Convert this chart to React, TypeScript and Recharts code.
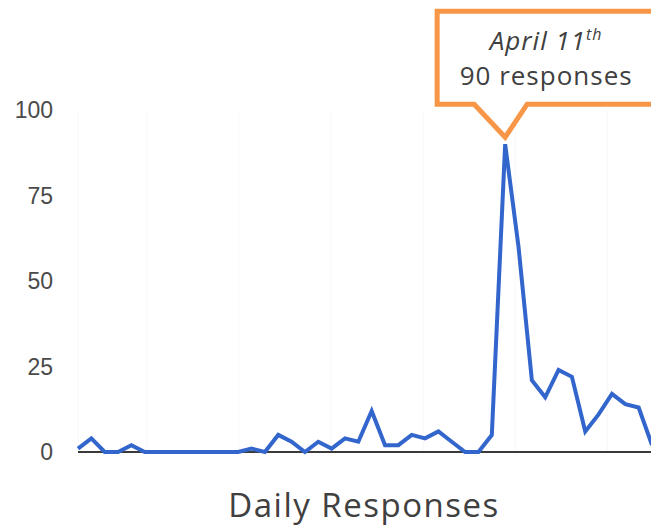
import React from "react";
import { LineChart, Line, XAxis, YAxis, CartesianGrid, ReferenceLine, ReferenceDot } from "recharts";

const dates = [
  "Mar 10", "Mar 11", "Mar 12", "Mar 13", "Mar 14", "Mar 15", "Mar 16", "Mar 17", "Mar 18", "Mar 19", "Mar 20",
  "Mar 21", "Mar 22", "Mar 23", "Mar 24", "Mar 25", "Mar 26", "Mar 27", "Mar 28", "Mar 29", "Mar 30", "Mar 31",
  "Apr 1", "Apr 2", "Apr 3", "Apr 4", "Apr 5", "Apr 6", "Apr 7", "Apr 8", "Apr 9", "Apr 10", "Apr 11",
  "Apr 12", "Apr 13", "Apr 14", "Apr 15", "Apr 16", "Apr 17", "Apr 18", "Apr 19", "Apr 20", "Apr 21", "Apr 22",
];

const responses = [
  1, 4, 0, 0, 2, 0, 0, 0, 0, 0, 0, 0, 0, 1, 0, 5, 3, 0, 3, 1, 4, 3,
  12, 2, 2, 5, 4, 6, 3, 0, 0, 5, 90, 60, 21, 16, 24, 22, 6, 11, 17, 14, 13, 2,
];

const yTicks = [0, 25, 50, 75, 100];
const gridDays = [5.15, 12.05, 18.95, 25.85, 32.75, 39.65];

const peakDate = "Apr 11";
const peakLine1 = "April 11";
const peakSup = "th";
const peakLine2 = "90 responses";
const title = "Daily Responses";

const data = dates.map((date, idx) => ({ idx, date, responses: responses[idx] }));
const peakIdx = dates.indexOf(peakDate);
const peakValue = responses[peakIdx];

const Callout = (props: any) => {
  const { cx, cy } = props;
  if (cx == null || cy == null) return null;
  const left = cx - 68;
  const right = cx + 149;
  const top = cy - 133;
  const bottom = cy - 40;
  const tipY = cy - 7;
  const d = `M${left},${top} L${right},${top} L${right},${bottom} L${cx + 22},${bottom} L${cx},${tipY} L${cx - 31},${bottom} L${left},${bottom} Z`;
  const tx = cx + 41;
  return (
    <g>
      <path d={d} fill="#ffffff" stroke="#F79646" strokeWidth={5} strokeLinejoin="miter" />
      <text x={tx} y={cy - 94} textAnchor="middle" fontFamily="'Open Sans', sans-serif" fontSize={26} fontStyle="italic" fill="#404040" letterSpacing={1}>
        {peakLine1}
        <tspan fontSize={16} dy={-10}>{peakSup}</tspan>
      </text>
      <text x={tx} y={cy - 59} textAnchor="middle" fontFamily="'Open Sans', sans-serif" fontSize={26} fill="#404040" letterSpacing={1}>
        {peakLine2}
      </text>
    </g>
  );
};

export default function App() {
  return (
    <div style={{ position: "absolute", left: 0, top: 0, width: 651, height: 529, overflow: "hidden", background: "#ffffff" }}>
      <LineChart width={652} height={529} data={data} margin={{ top: 110, right: 0, bottom: 77, left: 0 }}>
        <CartesianGrid horizontal={false} stroke="#f8f8f8" strokeWidth={1} />
        <XAxis type="number" dataKey="idx" domain={["dataMin", "dataMax"]} ticks={gridDays} hide />
        <YAxis
          domain={[0, 100]}
          ticks={yTicks}
          width={78}
          axisLine={false}
          tickLine={false}
          tickSize={0}
          tickMargin={25}
          tick={{ fill: "#4a4a4a", fontSize: 23, fontFamily: "'Liberation Sans', Arial, sans-serif" }}
        />
        <ReferenceLine y={0} stroke="#3a3a3a" strokeWidth={2} />
        <Line type="linear" dataKey="responses" stroke="#3366CC" strokeWidth={4} dot={false} isAnimationActive={false} />
        <ReferenceDot x={peakIdx} y={peakValue} shape={Callout} />
      </LineChart>
      <svg width={651} height={529} style={{ position: "absolute", left: 0, top: 0, pointerEvents: "none" }}>
        <text x={364} y={517} textAnchor="middle" fontFamily="'Open Sans', sans-serif" fontSize={33} fill="#404040" letterSpacing={1.5}>
          {title}
        </text>
      </svg>
    </div>
  );
}
